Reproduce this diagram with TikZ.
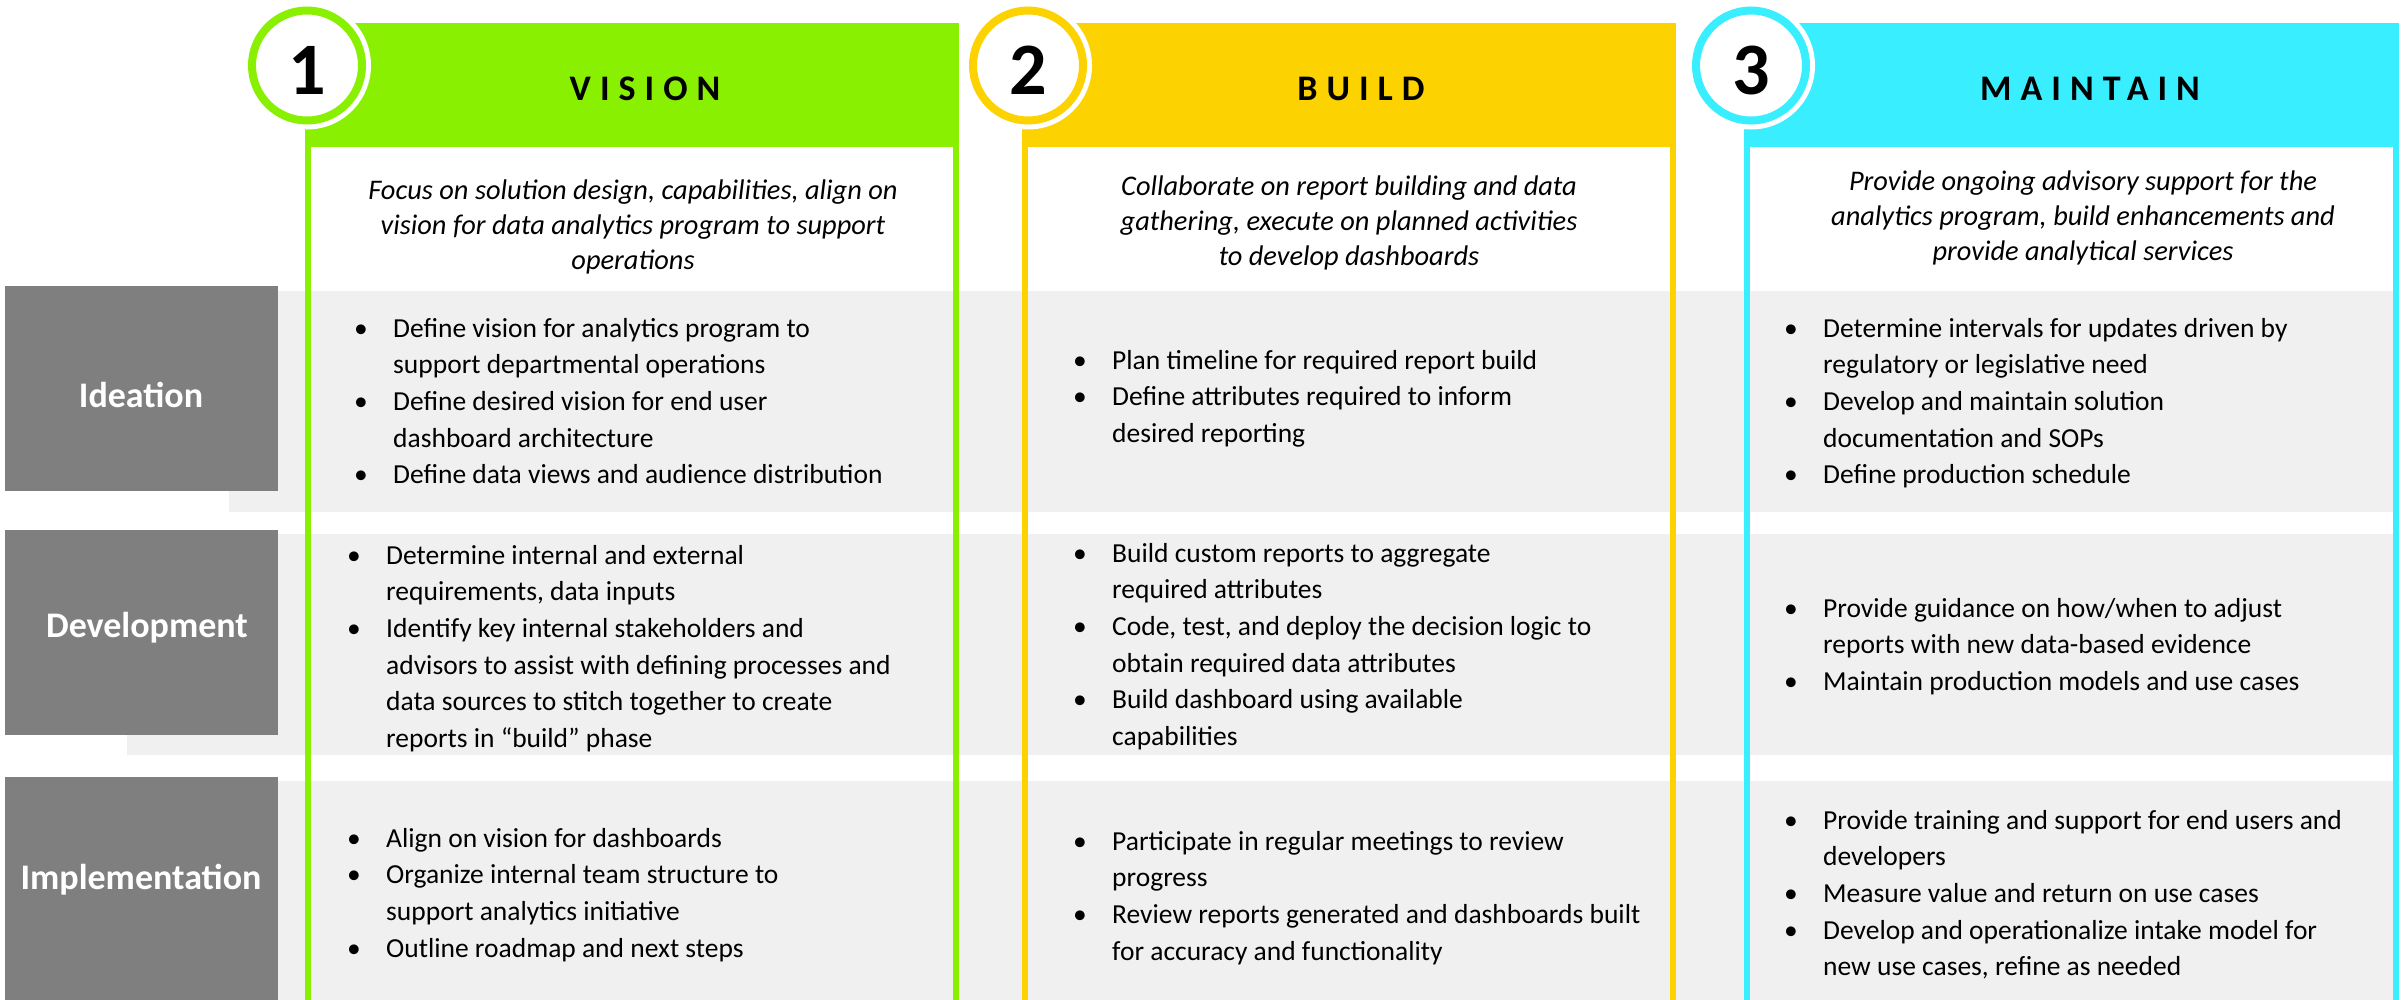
\documentclass[tikz,border=0pt]{standalone}
\usepackage{fontspec}
\setmainfont{Carlito}
\usepackage{array}
\definecolor{cgreen}{HTML}{88F000}
\definecolor{cyellow}{HTML}{FCD200}
\definecolor{ccyan}{HTML}{38EEFF}
\definecolor{lblgray}{HTML}{7F7F7F}
\definecolor{bandgray}{HTML}{F0F0F0}
\newcommand{\blist}[1]{{\renewcommand{\arraystretch}{1}\begin{tabular}[t]{@{}p{39pt}@{}l@{}}#1\end{tabular}}}
\newcommand{\bi}{\textbullet &}
\newcommand{\desc}[1]{\parbox[t]{640pt}{\centering #1}}
\tikzset{
  x=1pt, y=-1pt,
  band/.style={fill=bandgray, draw=none},
  lbl/.style={fill=lblgray, draw=none},
  lbltext/.style={anchor=base, inner sep=0, text=white, font=\fontsize{36}{40}\selectfont\bfseries},
  hdrtext/.style={anchor=base, inner sep=0, font=\fontsize{36}{40}\selectfont\bfseries\addfontfeature{LetterSpace=25}},
  numtext/.style={anchor=center, inner sep=0, font=\fontsize{74}{78}\selectfont\bfseries},
  desctext/.style={anchor=base, inner sep=0, font=\fontsize{28.4}{35}\selectfont\itshape},
  itemtext/.style={anchor=base west, inner sep=0, font=\fontsize{27.5}{36.7}\selectfont},
}
\begin{document}
\begin{tikzpicture}
\useasboundingbox (0,0) rectangle (2405,999);
\clip (0,0) rectangle (2405,999);
\fill[white] (0,0) rectangle (2405,999);
% bands
\path[band] (229,291) rectangle (2396,512);
\path[band] (127,534) rectangle (2396,755);
\path[band] (229,781) rectangle (2396,1010);
% row label boxes
\path[lbl] (5,286) rectangle (278,491);
\path[lbl] (5,530) rectangle (278,735);
\path[lbl] (5,777) rectangle (278,1010);
\node[lbltext] (lidea) at (141,407) {Ideation};
\node[lbltext] (ldev) at (147,637) {Development};
\node[lbltext] (limpl) at (141,889) {Implementation};
% panels
\foreach \l/\r/\c in {305/959/cgreen, 1022/1676/cyellow, 1744/2399/ccyan}{
  \fill[\c] (\l,23) rectangle (\r,147);
  \draw[\c, line width=6pt] (\l+3,140) -- (\l+3,1010);
  \draw[\c, line width=6pt] (\r-3,140) -- (\r-3,1010);
}
% circles
\foreach \cx/\c in {307/cgreen, 1028/cyellow, 1751/ccyan}{
  \fill[white] (\cx,65.5) circle (64);
  \draw[\c, line width=8pt, fill=white] (\cx,65.5) circle (55);
}
\node[numtext] (n1) at (307,70) {1};
\node[numtext] (n2) at (1028,70) {2};
\node[numtext] (n3) at (1751,70) {3};
\node[hdrtext] (h1) at (645,100) {VISION};
\node[hdrtext] (h2) at (1361,100) {BUILD};
\node[hdrtext] (h3) at (2090,100) {MAINTAIN};
% descriptions
\node[desctext] (d1) at (633,199) {\desc{Focus on solution design, capabilities, align on\\vision for data analytics program to support\\operations}};
\node[desctext] (d2) at (1349,195) {\desc{Collaborate on report building and data\\gathering, execute on planned activities\\to develop dashboards}};
\node[desctext] (d3) at (2083,190) {\desc{Provide ongoing advisory support for the\\analytics program, build enhancements and\\provide analytical services}};
% panel 1
\node[itemtext] (p1i) at (354,337) {\blist{
\bi Define vision for analytics program to\\
 & support departmental operations\\
\bi Define desired vision for end user\\
 & dashboard architecture\\
\bi Define data views and audience distribution}};
\node[itemtext] (p1d) at (347,564) {\blist{
\bi Determine internal and external\\
 & requirements, data inputs\\
\bi Identify key internal stakeholders and\\
 & advisors to assist with defining processes and\\
 & data sources to stitch together to create\\
 & reports in “build” phase}};
\node[itemtext] (p1m) at (347,847) {\blist{
\bi Align on vision for dashboards\\
\bi Organize internal team structure to\\
 & support analytics initiative\\
\bi Outline roadmap and next steps}};
% panel 2
\node[itemtext] (p2i) at (1073,369) {\blist{
\bi Plan timeline for required report build\\
\bi Define attributes required to inform\\
 & desired reporting}};
\node[itemtext] (p2d) at (1073,562) {\blist{
\bi Build custom reports to aggregate\\
 & required attributes\\
\bi Code, test, and deploy the decision logic to\\
 & obtain required data attributes\\
\bi Build dashboard using available\\
 & capabilities}};
\node[itemtext] (p2m) at (1073,850) {\blist{
\bi Participate in regular meetings to review\\
 & progress\\
\bi Review reports generated and dashboards built\\
 & for accuracy and functionality}};
% panel 3
\node[itemtext] (p3i) at (1784,337) {\blist{
\bi Determine intervals for updates driven by\\
 & regulatory or legislative need\\
\bi Develop and maintain solution\\
 & documentation and SOPs\\
\bi Define production schedule}};
\node[itemtext] (p3d) at (1784,617) {\blist{
\bi Provide guidance on how/when to adjust\\
 & reports with new data-based evidence\\
\bi Maintain production models and use cases}};
\node[itemtext] (p3m) at (1784,829) {\blist{
\bi Provide training and support for end users and\\
 & developers\\
\bi Measure value and return on use cases\\
\bi Develop and operationalize intake model for\\
 & new use cases, refine as needed}};
\end{tikzpicture}
\end{document}
